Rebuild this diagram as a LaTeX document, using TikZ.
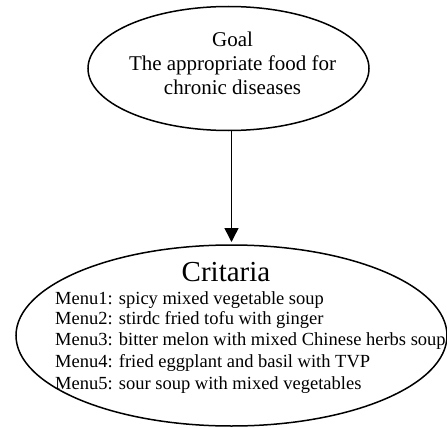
\documentclass[tikz,border=0pt]{standalone}
\usepackage{fontspec}
\setmainfont{Liberation Serif}
\usetikzlibrary{shapes.geometric,arrows.meta}
\begin{document}
\begin{tikzpicture}[x=1pt,y=-1pt,
  bubble/.style={ellipse,draw,line width=1.5pt,inner sep=0pt,outer sep=0pt},
  goaltext/.style={anchor=base,inner sep=0pt,font=\fontsize{21}{24}\selectfont},
  crittitle/.style={anchor=base,inner sep=0pt,font=\fontsize{29}{33}\selectfont},
  menutext/.style={anchor=base west,inner sep=0pt,font=\fontsize{18.5}{21}\selectfont},
  link/.style={line width=1.5pt,-{Triangle[width=14pt,length=14pt]},shorten >=3pt}]
\useasboundingbox (0,0) rectangle (447,428);
\node[bubble,minimum width=281pt,minimum height=124pt] (goal) at (228.5,68.5) {};
\node[bubble,minimum width=431pt,minimum height=181pt] (crit) at (231.5,335.5) {};
\node[goaltext] (g1) at (232.5,46.7) {Goal};
\node[goaltext] (g2) at (232.5,70.5) {The appropriate food for};
\node[goaltext] (g3) at (232.5,94.2) {chronic diseases};
\node[crittitle] (ct) at (226,281) {Critaria};
\node[menutext] (m1) at (55,304) {Menu1: spicy mixed vegetable soup};
\node[menutext] (m2) at (55,324.5) {Menu2: stirdc fried tofu with ginger};
\node[menutext] (m3) at (55,345.5) {Menu3: bitter melon with mixed Chinese herbs soup};
\node[menutext] (m4) at (55,367) {Menu4: fried eggplant and basil with TVP};
\node[menutext] (m5) at (55,389) {Menu5: sour soup with mixed vegetables};
\draw[link] (goal.south -| crit.north) -- (crit.north);
\end{tikzpicture}
\end{document}
